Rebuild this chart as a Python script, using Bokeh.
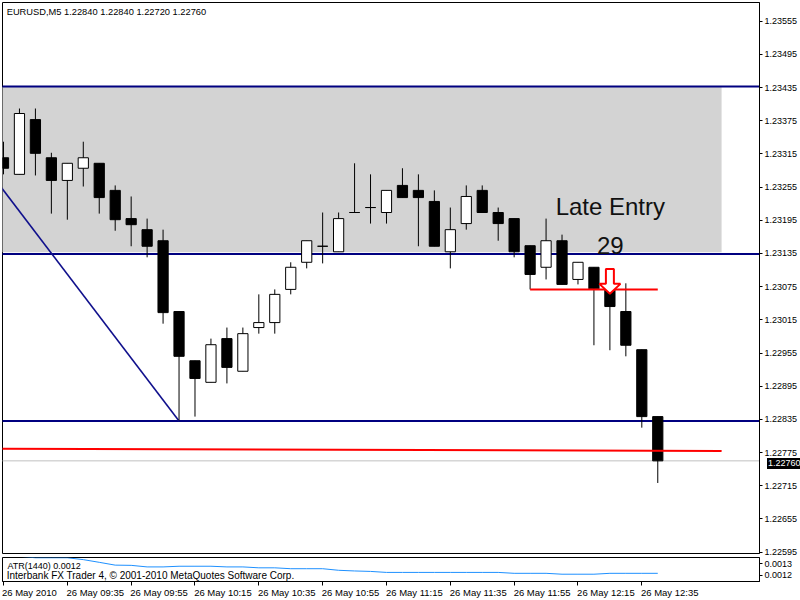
from bokeh.plotting import figure
from bokeh.layouts import column
from bokeh.models import Range1d, FixedTicker, PrintfTickFormatter, ColumnDataSource, Div
from bokeh.core.properties import value
from bokeh.embed import file_html
from bokeh.resources import INLINE

# ---------------- data ----------------
header_text = "EURUSD,M5  1.22840 1.22840 1.22720 1.22760"
bar_index = list(range(42))  # 5-minute bars, 0 = 09:15, 41 = 12:40
opens = [1.23308, 1.23278, 1.23377, 1.23308, 1.23267, 1.23289, 1.23298, 1.23249, 1.23198, 1.23178,
         1.23158, 1.23030, 1.22941, 1.22902, 1.22981, 1.22922, 1.23001, 1.23010, 1.23070, 1.23119,
         1.23148, 1.23138, 1.23209, 1.23218, 1.23209, 1.23258, 1.23249, 1.23229, 1.23138, 1.23189,
         1.23249, 1.23209, 1.23198, 1.23149, 1.23110, 1.23158, 1.23088, 1.23110, 1.23071, 1.23030,
         1.22961, 1.22840]
highs = [1.23337, 1.23397, 1.23397, 1.23317, 1.23298, 1.23337, 1.23298, 1.23258, 1.23238, 1.23198,
         1.23178, 1.23030, 1.22941, 1.22981, 1.23001, 1.23001, 1.23061, 1.23070, 1.23119, 1.23158,
         1.23209, 1.23209, 1.23298, 1.23278, 1.23249, 1.23289, 1.23278, 1.23249, 1.23218, 1.23258,
         1.23258, 1.23218, 1.23198, 1.23149, 1.23198, 1.23169, 1.23119, 1.23110, 1.23071, 1.23081,
         1.22961, 1.22840]
lows = [1.23278, 1.23278, 1.23276, 1.23207, 1.23196, 1.23256, 1.23207, 1.23176, 1.23148, 1.23128,
        1.23008, 1.22833, 1.22840, 1.22902, 1.22900, 1.22922, 1.22990, 1.22990, 1.23061, 1.23108,
        1.23117, 1.23138, 1.23209, 1.23189, 1.23189, 1.23236, 1.23148, 1.23148, 1.23108, 1.23178,
        1.23209, 1.23158, 1.23128, 1.23070, 1.23088, 1.23079, 1.23079, 1.22969, 1.22960, 1.22949,
        1.22820, 1.22720]
closes = [1.23289, 1.23388, 1.23316, 1.23267, 1.23298, 1.23308, 1.23236, 1.23196, 1.23187, 1.23148,
          1.23028, 1.22949, 1.22909, 1.22970, 1.22929, 1.22990, 1.23010, 1.23061, 1.23110, 1.23158,
          1.23148, 1.23198, 1.23209, 1.23218, 1.23249, 1.23236, 1.23236, 1.23148, 1.23178, 1.23238,
          1.23209, 1.23189, 1.23138, 1.23097, 1.23158, 1.23079, 1.23119, 1.23071, 1.23039, 1.22969,
          1.22840, 1.22760]
atr_values = [0.001379, 0.001368, 0.0013545, 0.0013545, 0.0013545, 0.001338, 0.001314, 0.001289,
              0.001287, 0.001273, 0.001273, 0.001279, 0.001279, 0.001279, 0.001273, 0.001273,
              0.001265, 0.001265, 0.001257, 0.001257, 0.001257, 0.001243, 0.001237, 0.001233,
              0.001224, 0.001224, 0.001224, 0.001224, 0.001224, 0.001224, 0.001224, 0.001224,
              0.001216, 0.001216, 0.001216, 0.001208, 0.001208, 0.001208, 0.001216, 0.001216,
              0.001216, 0.001216]

price_ticks = [1.22595, 1.22655, 1.22715, 1.22775, 1.22835, 1.22895, 1.22955, 1.23015, 1.23075,
               1.23135, 1.23195, 1.23255, 1.23315, 1.23375, 1.23435, 1.23495, 1.23555]
atr_ticks = [0.0012, 0.0013]
time_tick_bars = [0, 4, 8, 12, 16, 20, 24, 28, 32, 36, 40]
time_tick_labels = ["26 May 2010", "26 May 09:35", "26 May 09:55", "26 May 10:15", "26 May 10:35",
                    "26 May 10:55", "26 May 11:15", "26 May 11:35", "26 May 11:55", "26 May 12:15",
                    "26 May 12:35"]

blue_levels = [1.23437, 1.23134, 1.22832]
zone_left, zone_right = -1, 45
zone_bottom, zone_top = 1.23137, 1.23436
bid_price = 1.22760
red_trend_x = [-1, 45]
red_trend_y = [1.22782, 1.22778]
entry_x = [33, 41]
entry_price = 1.23070
blue_trend_x = [-1, 11]
blue_trend_y = [1.23287, 1.22832]
arrow_bar = 38
arrow_top, arrow_neck, arrow_tip = 1.23107, 1.23080, 1.23062
note_text, note_x, note_y = "Late Entry", 34.6, 1.23207
count_text, count_x, count_y = "29", 37.19, 1.23137
atr_label = "ATR(1440) 0.0012"
copyright_label = "Interbank FX Trader 4, \u00a9 2001-2010 MetaQuotes Software Corp."

# ---------------- figures ----------------
FONT = "Liberation Sans"
x_range = Range1d(-0.0625, 47.375)

main = figure(width=800, height=557, x_range=x_range, y_range=Range1d(1.225925, 1.235887),
              output_backend="svg", toolbar_location=None, x_axis_location=None,
              y_axis_location="right", min_border_left=2, min_border_right=39,
              min_border_top=2, min_border_bottom=4)
main.grid.visible = False
main.outline_line_color = "black"
main.outline_line_alpha = 1.0
main.background_fill_color = "white"
main.border_fill_color = "white"

# gray zone
main.quad(left=[zone_left], right=[zone_right], bottom=[zone_bottom], top=[zone_top],
          fill_color="#d3d3d3", line_color=None)
# horizontal navy levels
main.segment(x0=[-2] * len(blue_levels), x1=[60] * len(blue_levels), y0=blue_levels, y1=blue_levels,
             line_color="#000080", line_width=2)
# bid line
main.segment(x0=[-2], x1=[60], y0=[bid_price], y1=[bid_price], line_color="#c0c0c0", line_width=1)
# blue trend line
main.line(blue_trend_x, blue_trend_y, line_color="#10108c", line_width=1.6)

# candles
src = ColumnDataSource(dict(
    x=bar_index, high=highs, low=lows,
    top=[max(o, c) for o, c in zip(opens, closes)],
    bottom=[min(o, c) for o, c in zip(opens, closes)],
    fill=["white" if c >= o else "black" for o, c in zip(opens, closes)],
))
main.segment(x0="x", y0="high", x1="x", y1="low", source=src, line_color="black", line_width=1)
main.vbar(x="x", width=0.64, top="top", bottom="bottom", fill_color="fill",
          line_color="black", line_width=1, source=src)

# red lines
main.line(red_trend_x, red_trend_y, line_color="#ff0000", line_width=2)
main.line(entry_x, [entry_price, entry_price], line_color="#ff0000", line_width=2)

# arrow
ax = [arrow_bar - 0.25, arrow_bar + 0.25, arrow_bar + 0.25, arrow_bar + 0.66, arrow_bar,
      arrow_bar - 0.66, arrow_bar - 0.25]
ay = [arrow_top, arrow_top, arrow_neck, arrow_neck, arrow_tip, arrow_neck, arrow_neck]
main.patch(ax, ay, fill_color="white", line_color="#ff0000", line_width=2)

# texts
main.text(x=[0.2], y=[1.23567], text=[header_text], text_font=value(FONT), text_font_size="9.3px",
          text_color="black", text_baseline="alphabetic", text_align="left", y_offset=-3)
main.text(x=[note_x], y=[note_y], text=[note_text], text_font=value(FONT), text_font_size="24px",
          text_color="#111111", text_baseline="alphabetic", text_align="left", y_offset=-7)
main.text(x=[count_x], y=[count_y], text=[count_text], text_font=value(FONT), text_font_size="24px",
          text_color="#111111", text_baseline="alphabetic", text_align="left", y_offset=-7)

yax = main.yaxis[0]
yax.ticker = FixedTicker(ticks=price_ticks)
yax.formatter = PrintfTickFormatter(format="%.5f")
yax.major_tick_out = 3
yax.major_tick_in = 0
yax.minor_tick_out = 0
yax.minor_tick_in = 0
yax.major_label_standoff = 2
yax.axis_line_color = "black"
yax.major_tick_line_color = "black"
yax.major_label_text_font = FONT
yax.major_label_text_font_size = "9px"
yax.major_label_text_color = "black"

# ---------------- ATR sub window ----------------
sub = figure(width=800, height=43, x_range=x_range, y_range=Range1d(0.001143, 0.001357),
             output_backend="svg", toolbar_location=None, y_axis_location="right",
             x_axis_location="below", min_border_left=2, min_border_right=39,
             min_border_top=0, min_border_bottom=18)
sub.grid.visible = False
sub.outline_line_color = "black"
sub.background_fill_color = "white"
sub.border_fill_color = "white"
sub.line(bar_index, atr_values, line_color="#1e90ff", line_width=1)
sub.text(x=[0.25], y=[0.0012543], text=[atr_label], text_font=value(FONT), text_font_size="9px",
         text_color="black", text_baseline="alphabetic", y_offset=-3)
sub.text(x=[0.2], y=[0.0011687], text=[copyright_label], text_font=value(FONT), text_font_size="10px",
         text_color="black", text_baseline="alphabetic", y_offset=-3)

sy = sub.yaxis[0]
sy.ticker = FixedTicker(ticks=atr_ticks)
sy.formatter = PrintfTickFormatter(format="%.4f")
sy.major_tick_out = 3
sy.major_tick_in = 0
sy.minor_tick_out = 0
sy.minor_tick_in = 0
sy.major_label_standoff = 2
sy.axis_line_color = "black"
sy.major_label_text_font = FONT
sy.major_label_text_font_size = "9px"
sy.major_label_text_color = "black"

label_pos = [t + (1.625 if k == 0 else 1.75) for k, t in enumerate(time_tick_bars)]
sx = sub.xaxis[0]
sx.ticker = FixedTicker(ticks=label_pos, minor_ticks=time_tick_bars)
sx.major_label_overrides = {pos: lab for pos, lab in zip(label_pos, time_tick_labels)}
sx.major_tick_line_color = None
sx.major_tick_out = 4
sx.major_tick_in = 0
sx.minor_tick_line_color = "black"
sx.minor_tick_out = 4
sx.minor_tick_in = 0
sx.major_label_standoff = 1
sx.axis_line_color = "black"
sx.major_label_text_font = FONT
sx.major_label_text_font_size = "9.5px"
sx.major_label_text_color = "black"

# bid price tag on the price scale
bid_tag = Div(text=f"{bid_price:.5f}", styles={
    "position": "absolute", "left": "762px", "top": "453px", "width": "37px", "height": "11px",
    "background-color": "black", "color": "white", "font-family": FONT, "font-size": "9px",
    "line-height": "11px", "padding-left": "1px", "box-sizing": "border-box", "z-index": "10",
    "white-space": "nowrap"})

layout = column(main, sub, bid_tag, spacing=0)
open("out.html", "w").write(file_html(layout, INLINE))
